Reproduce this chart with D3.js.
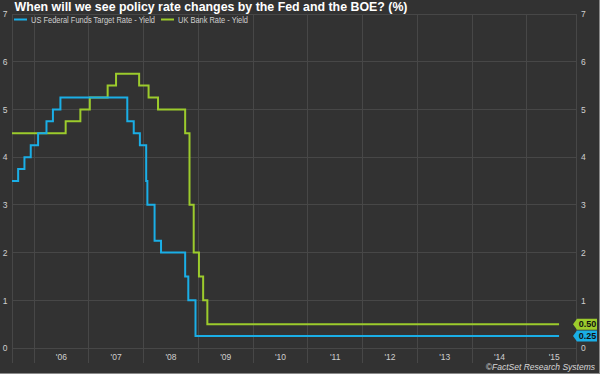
<!DOCTYPE html>
<html><head><meta charset="utf-8">
<script src="https://cdn.jsdelivr.net/npm/d3@7"></script>
<style>html,body{margin:0;padding:0;background:#323232;}svg{display:block;}</style>
</head><body>
<svg id="c" width="600" height="374"></svg>
<script>
const fedDates = ["2005-08-10","2005-09-20","2005-11-01","2005-12-13","2006-01-31","2006-03-28","2006-05-10","2006-06-29","2007-09-18","2007-10-31","2007-12-11","2008-01-22","2008-01-30","2008-03-18","2008-04-30","2008-10-08","2008-10-29","2008-12-16","2015-08-07"];
const fedValues = [3.5,3.75,4.0,4.25,4.5,4.75,5.0,5.25,4.75,4.5,4.25,3.5,3.0,2.25,2.0,1.5,1.0,0.25,0.25];
const ukDates = ["2005-08-10","2006-08-03","2006-11-09","2007-01-11","2007-05-10","2007-07-05","2007-12-06","2008-02-07","2008-04-10","2008-10-08","2008-11-06","2008-12-04","2009-01-08","2009-02-05","2009-03-05","2015-08-07"];
const ukValues = [4.5,4.75,5.0,5.25,5.5,5.75,5.5,5.25,5.0,4.5,3.0,2.0,1.5,1.0,0.5,0.5];
const yTicks = [0,1,2,3,4,5,6,7];
const xTickYears = [2006,2007,2008,2009,2010,2011,2012,2013,2014,2015];
const xTickLabels = ["'06","'07","'08","'09","'10","'11","'12","'13","'14","'15"];
const seriesNames = ["US Federal Funds Target Rate - Yield","UK Bank Rate - Yield"];
const lastLabels = ["0.25","0.50"];

const BLUE = "#1aaee6", GREEN = "#9ccb2c";
const svg = d3.select("#c");
const parse = d3.timeParse("%Y-%m-%d");
const L = 12, R = 576, T = 14, B = 348;
const x = d3.scaleTime().domain([parse("2005-08-10"), parse("2015-11-28")]).range([L, R]);
const y = d3.scaleLinear().domain([0, 7]).range([B, T]);

svg.append("rect").attr("width",600).attr("height",374).attr("fill","#323232");

// grid
const g = svg.append("g");
g.selectAll(".hg").data(yTicks).enter().append("line")
  .attr("x1",L).attr("x2",R).attr("y1",d=>y(d)).attr("y2",d=>y(d))
  .attr("stroke","#474747").attr("stroke-width",1).attr("shape-rendering","crispEdges");
const vlines = [x.domain()[0]].concat(xTickYears.map(yr=>new Date(yr,0,1))).concat([x.domain()[1]]);
g.selectAll(".vg").data(vlines).enter().append("line")
  .attr("x1",d=>Math.round(x(d))+0.5).attr("x2",d=>Math.round(x(d))+0.5).attr("y1",T).attr("y2",363)
  .attr("stroke","#474747").attr("stroke-width",1);

// axes (labels via d3 axes)
const fnt = "Liberation Sans, Arial, sans-serif";
const ax = svg.append("g").attr("transform",`translate(0,${B})`)
  .call(d3.axisBottom(x).tickValues(xTickYears.map(yr=>new Date(yr,6,2))).tickSize(0).tickPadding(6)
    .tickFormat((d,i)=>xTickLabels[i]));
ax.select(".domain").remove();
ax.selectAll("text").attr("fill","#d0d0d0").style("font-family",fnt).style("font-size","8.5px");

const ayl = svg.append("g").attr("transform",`translate(${L},0)`)
  .call(d3.axisLeft(y).tickValues(yTicks).tickSize(0).tickPadding(4).tickFormat(d3.format("d")));
ayl.select(".domain").remove();
ayl.selectAll("text").attr("fill","#d0d0d0").style("font-family",fnt).style("font-size","8.5px").attr("text-anchor","middle").attr("x",-7);

const ayr = svg.append("g").attr("transform",`translate(${R},0)`)
  .call(d3.axisRight(y).tickValues(yTicks).tickSize(0).tickPadding(5).tickFormat(d3.format("d")));
ayr.select(".domain").remove();
ayr.selectAll("text").attr("fill","#d0d0d0").style("font-family",fnt).style("font-size","8.5px");

// lines
const mk = (dates, vals) => dates.map((d,i)=>({date:parse(d), v:vals[i]}));
const fed = mk(fedDates, fedValues), uk = mk(ukDates, ukValues);
const line = d3.line().x(d=>x(d.date)).y(d=>y(d.v)).curve(d3.curveStepAfter);
svg.append("path").datum(uk).attr("d",line).attr("fill","none").attr("stroke",GREEN).attr("stroke-width",2);
svg.append("path").datum(fed).attr("d",line).attr("fill","none").attr("stroke",BLUE).attr("stroke-width",2);

// end tags
function tag(val, txt, col){
  const cy = y(val), x0 = 573, x1 = 597, h = 5.5;
  svg.append("path").attr("d",`M${x0},${cy}L${x0+4},${cy-h}L${x1},${cy-h}L${x1},${cy+h}L${x0+4},${cy+h}Z`).attr("fill",col);
  svg.append("text").attr("x",(x0+4+x1)/2+0.5).attr("y",cy+3.3).attr("text-anchor","middle")
    .attr("fill","#111").style("font-family",fnt).style("font-size","9px").style("font-weight","bold").text(txt);
}
tag(ukValues[ukValues.length-1], lastLabels[1], GREEN);
tag(fedValues[fedValues.length-1], lastLabels[0], BLUE);

// title
svg.append("text").attr("x",14.5).attr("y",11).attr("fill","#ffffff").style("font-family",fnt)
  .style("font-size","12.5px").style("font-weight","bold").attr("textLength",393).attr("lengthAdjust","spacingAndGlyphs")
  .text("When will we see policy rate changes by the Fed and the BOE? (%)");

// legend
const lg = svg.append("g");
[[14,31,BLUE,seriesNames[0],124],[161,178,GREEN,seriesNames[1],70]].forEach(([lx,tx,c,t,w])=>{
  lg.append("line").attr("x1",lx).attr("x2",lx+13).attr("y1",19.5).attr("y2",19.5).attr("stroke",c).attr("stroke-width",2);
  lg.append("text").attr("x",tx).attr("y",22.5).attr("fill","#cfcfcf").style("font-family",fnt).style("font-size","8.5px")
    .attr("textLength",w).attr("lengthAdjust","spacingAndGlyphs").text(t);
});

// copyright
svg.append("text").attr("x",595).attr("y",370).attr("text-anchor","end").attr("fill","#d8d8d8")
  .style("font-family",fnt).style("font-size","8.5px").style("font-style","italic").text("©FactSet Research Systems");

// frame
svg.append("line").attr("x1",0).attr("x2",600).attr("y1",373.5).attr("y2",373.5).attr("stroke","#8a8a8a");
svg.append("line").attr("x1",599.5).attr("x2",599.5).attr("y1",0).attr("y2",374).attr("stroke","#8a8a8a");
</script>
</body></html>
